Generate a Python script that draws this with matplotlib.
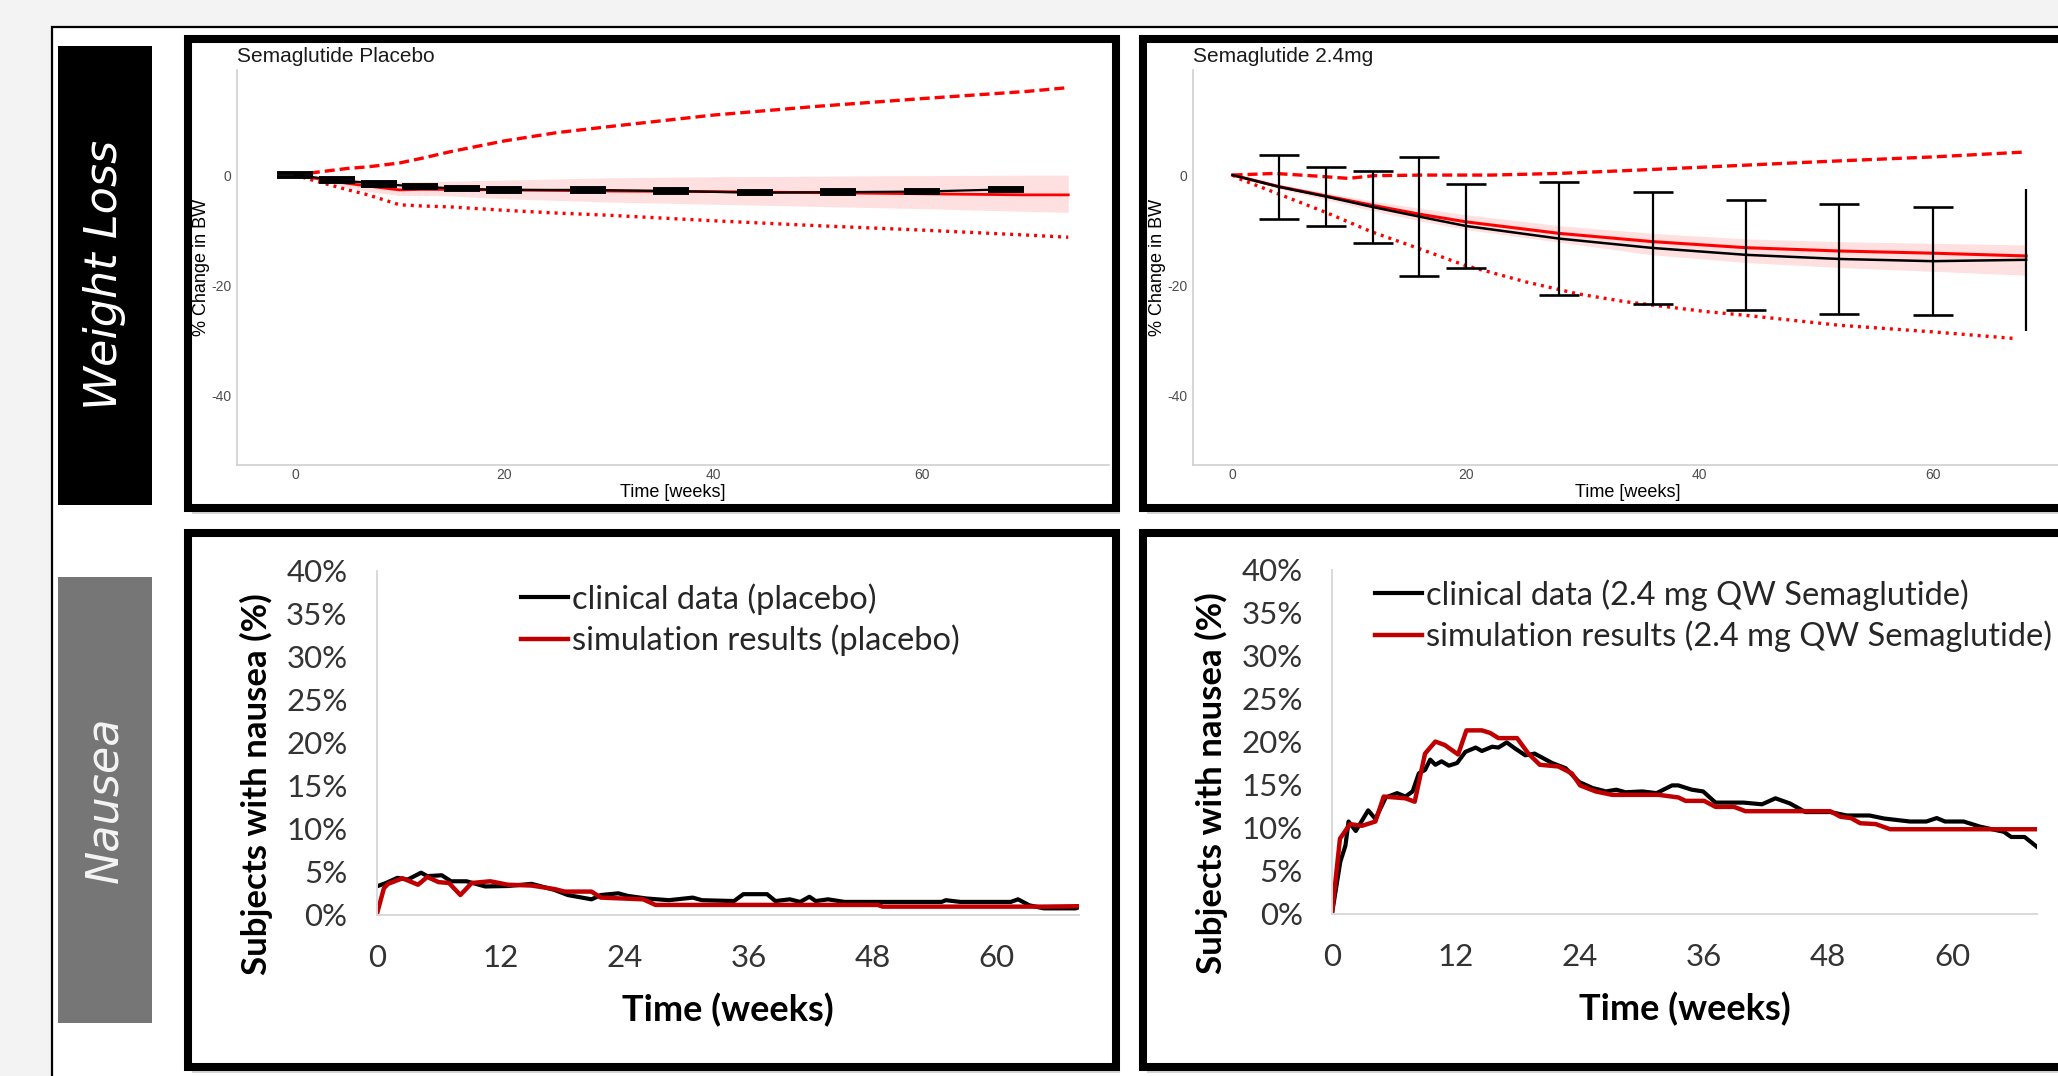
"""Weight loss and nausea panels: clinical data vs simulation (placebo / semaglutide 2.4 mg)."""

import matplotlib.pyplot as plt
from matplotlib.patches import Rectangle
from matplotlib.ticker import FuncFormatter

plt.rcParams["axes.unicode_minus"] = False

W, H = 2058, 1076  # output size in pixels (dpi 100)

# ---- weight loss, placebo (% change in BW) ----
pl_obs_t = [0, 4, 8, 12, 16, 20, 28, 36, 44, 52, 60, 68]
pl_obs_mean = [0, -0.9, -1.6, -2.1, -2.5, -2.7, -2.7, -2.9, -3.2, -3.1, -3.0, -2.6]
pl_obs_err = [0.3, 0.3, 0.3, 0.3, 0.3, 0.3, 0.3, 0.3, 0.3, 0.3, 0.3, 0.3]
pl_sim_t = [0, 2, 5, 7, 10, 12, 15, 20, 25, 30, 40, 50, 60, 70, 74]
pl_sim_med = [0, -0.6, -1.5, -2.0, -2.7, -2.6, -2.6, -2.7, -2.8, -2.9, -3.0, -3.2, -3.4, -3.6, -3.6]
pl_sim_ci_hi = [0, -0.3, -0.6, -0.9, -1.2, -1.2, -1.1, -0.9, -0.7, -0.5, -0.3, -0.2, -0.1, 0, 0]
pl_sim_ci_lo = [0, -0.9, -2.2, -3.0, -3.7, -3.7, -3.8, -4.3, -4.6, -4.9, -5.3, -5.7, -6.1, -6.6, -6.8]
pl_sim_p95 = [0, 0.5, 1.2, 1.5, 2.2, 3.0, 4.3, 6.2, 7.7, 8.8, 10.9, 12.5, 13.9, 15.2, 15.9]
pl_sim_p05 = [0, -1.1, -2.65, -3.6, -5.4, -5.6, -5.8, -6.4, -6.9, -7.3, -8.3, -9.2, -10.0, -10.9, -11.3]

# ---- weight loss, semaglutide 2.4 mg ----
sem_obs_t = [0, 4, 8, 12, 16, 20, 28, 36, 44, 52, 60, 68]
sem_obs_mean = [0, -2.15, -3.9, -5.8, -7.55, -9.25, -11.55, -13.25, -14.5, -15.25, -15.65, -15.4]
sem_obs_err = [0, 5.75, 5.3, 6.6, 10.75, 7.55, 10.25, 10.15, 10.0, 9.95, 9.85, 12.9]
sem_sim_t = [0, 4, 8, 12, 16, 20, 28, 36, 44, 52, 60, 68]
sem_sim_med = [0, -2.1, -3.8, -5.5, -7.1, -8.5, -10.6, -12.1, -13.2, -13.8, -14.2, -14.7]
sem_sim_ci_hi = [0, -1.7, -3.2, -4.7, -6.0, -7.2, -9.2, -10.6, -11.6, -12.1, -12.4, -12.7]
sem_sim_ci_lo = [0, -2.5, -4.5, -6.5, -8.3, -9.9, -12.2, -14.5, -15.9, -16.8, -17.5, -18.2]
sem_p95_t = [0, 3.6, 7.3, 9.9, 12.2, 16.5, 22.2, 27.9, 33.6, 39.9, 50, 60, 68]
sem_sim_p95 = [0, 0.3, -0.2, -0.6, -0.1, 0, 0, 0.3, 0.8, 1.4, 2.4, 3.3, 4.2]
sem_p05_t = [0, 0.5, 4.5, 7.9, 11.9, 15.9, 19.9, 25.1, 29.6, 33.6, 40.5, 44, 52, 60, 67]
sem_sim_p05 = [0, -0.6, -3.9, -6.7, -10.3, -13.3, -16.4, -19.4, -21.6, -23.0, -24.8, -25.5, -27.3, -28.5, -29.7]

# ---- nausea, placebo (% subjects) ----
nau_pl_clin_t = [0, 0.9, 2.0, 3.0, 4.3, 4.9, 6.3, 7.2, 8.7, 10.5, 12.7, 15.0, 17.2, 18.5,
                 20.8, 21.7, 23.4, 24.3, 26.1, 28.3, 30.6, 31.5, 34.6, 35.5, 37.8, 38.6,
                 40.0, 41.0, 41.9, 42.5, 43.7, 45.3, 54.7, 55.1, 56.5, 61.4, 62.1, 63.2,
                 64.6, 67.7, 68.0]
nau_pl_clin = [3.3, 3.7, 4.3, 4.1, 4.9, 4.5, 4.6, 3.9, 3.9, 3.3, 3.35, 3.6, 2.9, 2.3,
               1.8, 2.3, 2.5, 2.2, 1.9, 1.7, 2.0, 1.7, 1.6, 2.4, 2.4, 1.6,
               1.8, 1.5, 2.1, 1.6, 1.8, 1.5, 1.5, 1.7, 1.5, 1.5, 1.8, 1.1,
               0.75, 0.75, 0.9]
nau_pl_sim_t = [0, 0.7, 1.1, 2.5, 4.0, 4.9, 6.0, 7.0, 8.1, 9.2, 11.0, 12.7, 15.0, 17.2,
                18.2, 20.8, 21.7, 25.8, 27.0, 48.5, 49.0, 63.6, 64.5, 68.0]
nau_pl_sim = [0, 3.1, 3.6, 4.25, 3.5, 4.4, 3.8, 3.7, 2.3, 3.7, 3.9, 3.5, 3.4, 3.0,
              2.7, 2.7, 2.0, 1.8, 1.15, 1.15, 0.95, 0.95, 0.95, 1.0]

# ---- nausea, 2.4 mg QW semaglutide ----
nau_sem_clin_t = [0, 0.8, 1.3, 1.6, 2.3, 3.5, 4.2, 5.2, 6.3, 7.1, 7.8, 8.4, 9.0, 9.5, 10.0,
                  10.6, 11.3, 12.1, 12.9, 13.9, 14.5, 15.5, 16.1, 16.9, 17.7, 18.7, 19.6,
                  21.3, 22.6, 23.9, 25.2, 26.5, 27.5, 28.4, 30.0, 31.4, 32.9, 33.5, 34.8,
                  35.9, 37.1, 39.8, 41.6, 42.9, 44.3, 45.8, 48.2, 49.8, 52.0, 53.4, 55.9,
                  57.5, 58.5, 59.3, 61.1, 62.7, 65.0, 65.7, 67.0, 68.2]
nau_sem_clin = [0, 6.0, 7.9, 10.7, 9.6, 12.0, 11.0, 13.5, 14.0, 13.6, 14.2, 16.3, 16.7, 17.9, 17.3,
                17.7, 17.2, 17.5, 18.8, 19.3, 18.9, 19.4, 19.3, 19.9, 19.2, 18.4, 18.6,
                17.5, 16.9, 15.3, 14.6, 14.2, 14.4, 14.1, 14.2, 14.0, 14.9, 14.9, 14.4,
                14.2, 12.9, 12.9, 12.7, 13.4, 12.8, 11.8, 11.8, 11.4, 11.4, 11.05, 10.7,
                10.7, 11.1, 10.7, 10.7, 10.1, 9.5, 8.9, 8.9, 7.75]
nau_sem_sim_t = [0, 0.77, 1.74, 2.9, 4.2, 5.0, 7.1, 8.0, 9.0, 10.0, 10.9, 12.2, 13.0, 14.5,
                 15.3, 16.1, 17.9, 19.0, 20.1, 21.9, 23.2, 24.0, 25.5, 27.1, 31.6, 33.5,
                 34.2, 36.0, 37.1, 38.9, 40.0, 48.2, 49.2, 50.2, 51.1, 52.6, 54.0, 68.2]
nau_sem_sim = [0, 8.7, 10.4, 10.2, 10.7, 13.6, 13.4, 13.0, 18.6, 20.0, 19.6, 18.5, 21.3, 21.3,
               21.0, 20.4, 20.4, 18.6, 17.3, 17.1, 16.3, 14.9, 14.2, 13.8, 13.8, 13.5,
               13.1, 13.1, 12.4, 12.4, 11.9, 11.9, 11.25, 11.1, 10.5, 10.4, 9.8, 9.8]

RED = "#ff0000"
DARK_RED = "#c00000"
WEIGHT_FONT = "Liberation Sans"
NAUSEA_FONT = "Lato"
NFS = 22.5  # nausea tick label size
LFS = 23.5  # nausea legend size


def px_axes(fig, x0, y0, x1, y1, **kw):
    # add axes from a pixel box (top-left origin)
    return fig.add_axes([x0 / W, 1 - y1 / H, (x1 - x0) / W, (y1 - y0) / H], **kw)


def style_weight_axes(ax, xlim):
    ax.set_facecolor("none")
    ax.set_xlim(*xlim)
    ax.set_ylim(-52.7, 19.1)
    for s in ["top", "right"]:
        ax.spines[s].set_visible(False)
    for s in ["left", "bottom"]:
        ax.spines[s].set_color("#cfcfcf")
        ax.spines[s].set_linewidth(1.2)
    ax.set_xticks([0, 20, 40, 60])
    ax.set_yticks([-40, -20, 0])
    ax.tick_params(length=0, labelsize=10, labelcolor="#4d4d4d")
    ax.tick_params(axis="x", pad=2)
    ax.tick_params(axis="y", pad=4)
    for lab in ax.get_xticklabels() + ax.get_yticklabels():
        lab.set_family(WEIGHT_FONT)
    ax.set_xlabel("Time [weeks]", family=WEIGHT_FONT, fontsize=13, labelpad=1.5)
    ax.set_ylabel("% Change in BW", family=WEIGHT_FONT, fontsize=13, labelpad=1)


def style_nausea_axes(ax, xmax):
    ax.set_facecolor("none")
    ax.set_xlim(0, xmax)
    ax.set_ylim(0, 40)
    for s in ["top", "right"]:
        ax.spines[s].set_visible(False)
    for s in ["left", "bottom"]:
        ax.spines[s].set_color("#d9d9d9")
        ax.spines[s].set_linewidth(1.4)
    ax.set_xticks([0, 12, 24, 36, 48, 60])
    ax.set_yticks(range(0, 41, 5))
    ax.yaxis.set_major_formatter(FuncFormatter(lambda v, p: f"{v:.0f}%"))
    ax.tick_params(length=0, labelsize=NFS, labelcolor="#333333")
    ax.tick_params(axis="x", pad=21)
    ax.tick_params(axis="y", pad=21)
    for lab in ax.get_xticklabels() + ax.get_yticklabels():
        lab.set_family(NAUSEA_FONT)
    ax.set_xlabel("Time (weeks)", family=NAUSEA_FONT, fontsize=26,
                  fontweight="bold", labelpad=15)
    ax.set_ylabel("Subjects with nausea (%)", family=NAUSEA_FONT, fontsize=25,
                  fontweight="bold")
    ax.yaxis.set_label_coords(-0.148, 0.38)


fig = plt.figure(figsize=(W / 100, H / 100), dpi=100, facecolor="#f3f3f3")

# background layer in pixel coordinates
bg = fig.add_axes([0, 0, 1, 1], zorder=0)
bg.set_xlim(0, W)
bg.set_ylim(H, 0)
bg.axis("off")
bg.add_patch(Rectangle((52, 27), 2200, 1200, fc="white", ec="black", lw=1.6))
bg.add_patch(Rectangle((58, 46), 94, 459, fc="black", lw=0))
bg.add_patch(Rectangle((58, 577), 94, 446, fc="#767676", lw=0))
bg.text(105, 275, "Weight Loss", rotation=90, color="white", fontsize=32,
        style="italic", family="DejaVu Sans", ha="center", va="center")
bg.text(105, 800, "Nausea", rotation=90, color="#f4f4f4", fontsize=32,
        style="italic", family="DejaVu Sans", ha="center", va="center")

panels = [(188, 39, 928, 469), (1143, 39, 1000, 469),
          (188, 533, 928, 534), (1143, 533, 1000, 534)]
for x, y, w, h in panels:
    bg.add_patch(Rectangle((x + 4, y + 6), w, h, fc="#c4c4c4", lw=0, alpha=0.7))
    bg.add_patch(Rectangle((x, y), w, h, fc="white", ec="black", lw=5.8))

bg.text(237, 62, "Semaglutide Placebo", family=WEIGHT_FONT, fontsize=15,
        color="#1a1a1a", va="baseline")
bg.text(1193, 62, "Semaglutide 2.4mg", family=WEIGHT_FONT, fontsize=15,
        color="#1a1a1a", va="baseline")

# ---- top left: weight loss placebo ----
ax1 = px_axes(fig, 237, 70, 1109, 465, zorder=1)
ax1.fill_between(pl_sim_t, pl_sim_ci_lo, pl_sim_ci_hi, color=RED, alpha=0.12, lw=0)
ax1.plot(pl_sim_t, pl_sim_p95, color=RED, lw=2.4, dashes=(3, 1.5))
ax1.plot(pl_sim_t, pl_sim_p05, color=RED, lw=2.4, dashes=(0.9, 1.5))
ax1.plot(pl_sim_t, pl_sim_med, color=RED, lw=2.0)
ax1.errorbar(pl_obs_t, pl_obs_mean, yerr=pl_obs_err, color="black", lw=1.6,
             elinewidth=1.5, capsize=13, capthick=2.8)
style_weight_axes(ax1, (-5.55, 77.9))

# ---- top right: weight loss semaglutide 2.4 mg ----
ax2 = px_axes(fig, 1193, 70, 2062, 465, zorder=1)
ax2.fill_between(sem_sim_t, sem_sim_ci_lo, sem_sim_ci_hi, color=RED, alpha=0.12, lw=0)
ax2.plot(sem_p95_t, sem_sim_p95, color=RED, lw=2.4, dashes=(3, 1.5))
ax2.plot(sem_p05_t, sem_sim_p05, color=RED, lw=2.4, dashes=(0.9, 1.5))
ax2.plot(sem_sim_t, sem_sim_med, color=RED, lw=2.2)
ax2.plot(sem_obs_t, sem_obs_mean, color="black", lw=1.8)
ax2.errorbar(sem_obs_t[1:-1], sem_obs_mean[1:-1], yerr=sem_obs_err[1:-1], fmt="none",
             ecolor="black", elinewidth=1.6, capsize=14.5, capthick=1.9)
ax2.errorbar(sem_obs_t[-1:], sem_obs_mean[-1:], yerr=sem_obs_err[-1:], fmt="none",
             ecolor="black", elinewidth=1.6, capsize=0)
style_weight_axes(ax2, (-3.39, 71.07))

# ---- bottom left: nausea placebo ----
ax3 = px_axes(fig, 376.7, 571, 1079, 914.8, zorder=1)
ax3.plot(nau_pl_clin_t, nau_pl_clin, color="black", lw=3.0,
         label="clinical data (placebo)")
ax3.plot(nau_pl_sim_t, nau_pl_sim, color=DARK_RED, lw=3.2,
         label="simulation results (placebo)")
style_nausea_axes(ax3, 68)

# ---- bottom right: nausea semaglutide ----
ax4 = px_axes(fig, 1332, 569.6, 2037, 913.5, zorder=1)
ax4.plot(nau_sem_clin_t, nau_sem_clin, color="black", lw=3.0,
         label="clinical data (2.4 mg QW Semaglutide)")
ax4.plot(nau_sem_sim_t, nau_sem_sim, color=DARK_RED, lw=3.2,
         label="simulation results (2.4 mg QW Semaglutide)")
style_nausea_axes(ax4, 68.2)

for ax, (lx, ly) in [(ax3, (521, 583)), (ax4, (1375, 579))]:
    leg = ax.legend(loc="upper left", bbox_to_anchor=(lx / W, 1 - ly / H),
                    bbox_transform=fig.transFigure, frameon=False,
                    prop={"family": NAUSEA_FONT, "size": LFS},
                    handlelength=1.45, handletextpad=0.12, labelspacing=0.3,
                    borderaxespad=0, borderpad=0)
    for t in leg.get_texts():
        t.set_color("#262626")

fig.savefig("out.png", dpi=100, facecolor=fig.get_facecolor())
